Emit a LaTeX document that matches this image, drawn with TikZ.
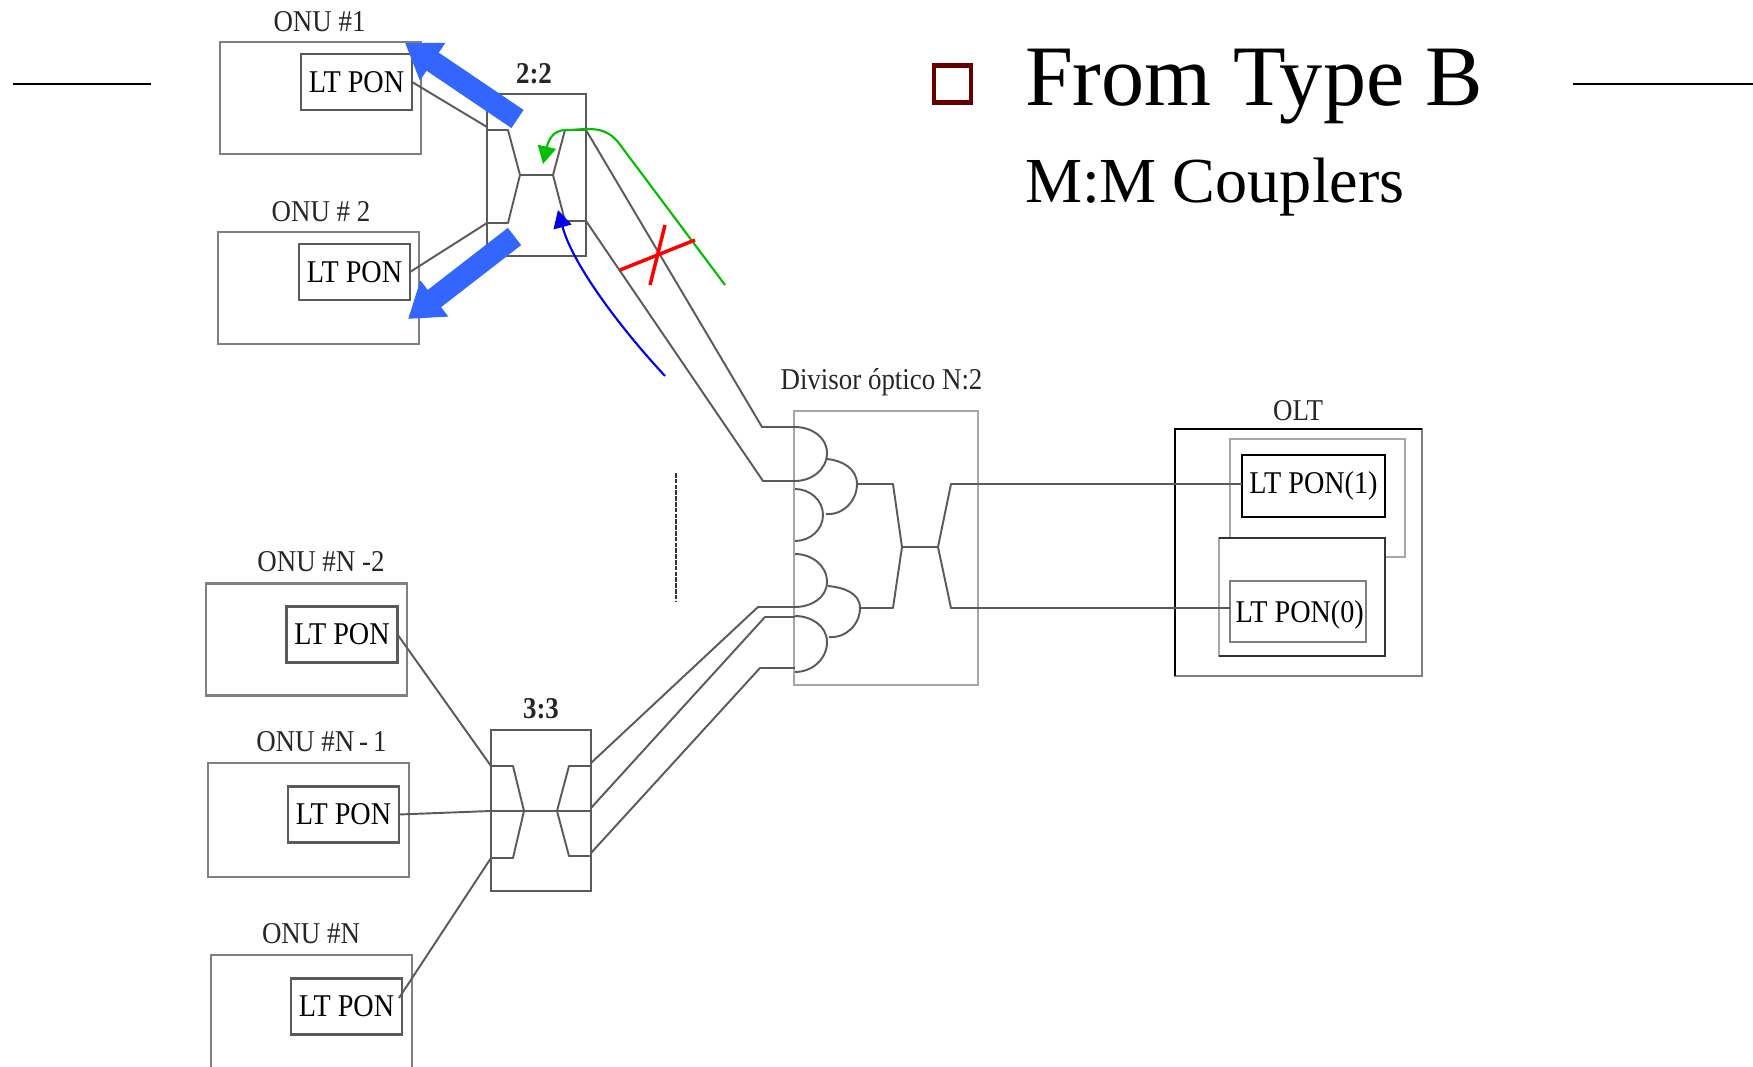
\documentclass[tikz,border=0pt]{standalone}
\usepackage{fontspec}
\usetikzlibrary{arrows.meta}
\setmainfont{Liberation Serif}
\newfontfamily\diagramfont[FakeStretch=0.89]{Liberation Serif}
\definecolor{wirecol}{HTML}{5A5A5A}
\definecolor{boxcol}{HTML}{808080}
\definecolor{palecol}{HTML}{A6A6A6}
\definecolor{bigblue}{HTML}{3366FF}
\definecolor{bulletcol}{HTML}{660000}
\begin{document}
\begin{tikzpicture}[x=0.01cm, y=-0.01cm, inner sep=0, outer sep=0,
	main/.style = {draw=boxcol, line width=0.6pt, font=\diagramfont\fontsize{9}{10}\selectfont},
	onu/.style = {main, minimum width=2.01cm, minimum height=1.12cm},
	pon/.style = {main, draw=wirecol, minimum width=1.11cm, minimum height=0.56cm},
	coupler/.style = {main, draw=wirecol, minimum width=1cm, minimum height=1.61cm},
	caption/.style = {anchor=base, text=black!85, font=\diagramfont\fontsize{8.6}{10}\selectfont},
	ratio/.style = {caption, font=\diagramfont\bfseries\fontsize{8.6}{10}\selectfont},
	wire/.style = {draw=wirecol, line width=0.55pt, line join=round},
	pale/.style = {draw=palecol, line width=0.8pt, line join=miter},
	bigarrow/.style = {draw=bigblue, line width=6.2pt, -{Triangle[length=9.5pt, width=12.3pt]}},
	thinarrow/.style = {line width=0.6pt, -{Triangle[length=5pt, width=5.2pt]}}]
	\useasboundingbox (0,0) rectangle (1753,1067);
	\node[onu] (onu1) at (320.5,98) {};
	\node[onu] (onu2) at (318.5,288) {};
	\node[onu] (onu3) at (306.5,639.5) {};
	\node[onu, minimum height=1.14cm] (onu4) at (308.5,820) {};
	\node[onu, minimum height=1.2cm] (onu5) at (311.5,1015) {};
	\node[pon] (pon1) at (356.5,82) {LT PON};
	\node[pon] (pon2) at (354.5,272) {LT PON};
	\node[pon] (pon3) at (342,634.5) {LT PON};
	\node[pon] (pon4) at (343.5,814.5) {LT PON};
	\node[pon] (pon5) at (346.5,1006.5) {LT PON};
	\node[caption] (cap1) at (319.5,32) {ONU \#1};
	\node[caption] (cap2) at (321,222) {ONU \# 2};
	\node[caption] (cap3) at (321,572) {ONU \#N -2};
	\node[caption] (cap4) at (321.5,752) {ONU \#N\,-\,1};
	\node[caption] (cap5) at (311,944) {ONU \#N};
	\node[ratio] (cap22) at (534,84) {2:2};
	\node[ratio] (cap33) at (541,719) {3:3};
	\node[caption] (capdiv) at (881.5,390) {Divisor óptico N:2};
	\node[caption] (capolt) at (1298,421) {OLT};
	\node[coupler, minimum width=0.99cm, minimum height=1.62cm] (c22) at (536.5,175) {};
	\node[coupler] (c33) at (541,810.5) {};
	\node[main, draw=palecol, line width=0.8pt, minimum width=1.84cm, minimum height=2.74cm] (div) at (886,548) {};
	\node[main, minimum width=2.47cm, minimum height=2.47cm] (olt) at (1298.5,552.5) {};
	\draw[black, line width=0.6pt] (olt.south west) -- (olt.north west) -- (olt.north east);
	\coordinate (rack1) at (1230,537);
	\coordinate (rack2) at (1230,439);
	\coordinate (rack3) at (1405,439);
	\coordinate (rack4) at (1405,557);
	\coordinate (rack5) at (1385,557);
	\draw[pale] (rack1) -- (rack2) -- (rack3) -- (rack4) -- (rack5);
	\node[main, draw=palecol, line width=0.8pt, minimum width=1.66cm, minimum height=1.18cm] (card0) at (1302,597) {};
	\draw[black!80, line width=0.6pt] (card0.north west) -- (card0.north east) -- (card0.south east) -- (card0.south west);
	\node[main, draw=black, minimum width=1.43cm, minimum height=0.62cm] (lt1) at (1313.5,486) {LT PON(1)};
	\node[main, text depth=0pt, minimum width=1.36cm, minimum height=0.61cm] (lt0) at (1298,611.5) {\hspace{1pt}LT PON(0)};
	\coordinate (a1) at (487,127);
	\coordinate (a2) at (487,130);
	\coordinate (a3) at (508,130);
	\coordinate (a4) at (520,175);
	\coordinate (a5) at (508,223);
	\coordinate (a6) at (487,223);
	\coordinate (a7) at (553,175);
	\coordinate (a8) at (565,130);
	\coordinate (a9) at (586,130);
	\coordinate (a10) at (565,221);
	\coordinate (a11) at (586,221);
	\draw[wire] (a2) -- (a3) -- (a4) -- (a5) -- (a6);
	\draw[wire] (a9) -- (a8) -- (a7) -- (a10) -- (a11);
	\draw[wire] (a4) -- (a7);
	\draw[wire] (pon1.east) -- (a1);
	\draw[wire] (pon2.east) -- (a6);
	\coordinate (b1) at (491,766);
	\coordinate (b2) at (513,766);
	\coordinate (b3) at (524,811);
	\coordinate (b4) at (513,858);
	\coordinate (b5) at (491,858);
	\coordinate (b6) at (491,811);
	\coordinate (b7) at (591,811);
	\coordinate (b8) at (591,766);
	\coordinate (b9) at (569,766);
	\coordinate (b10) at (557,811);
	\coordinate (b11) at (569,856);
	\coordinate (b12) at (591,856);
	\draw[wire] (b1) -- (b2) -- (b3) -- (b4) -- (b5);
	\draw[wire] (b8) -- (b9) -- (b10) -- (b11) -- (b12);
	\draw[wire] (b6) -- (b7);
	\coordinate (p5) at (399,998);
	\draw[wire] (pon3.east) -- (b1);
	\draw[wire] (pon4.east) -- (b6);
	\draw[wire] (p5) -- (b5);
	\coordinate (d1) at (795,427);
	\coordinate (d2) at (827,453);
	\coordinate (d3) at (795,481);
	\coordinate (d4) at (795,489);
	\coordinate (d5) at (823,515);
	\coordinate (d6) at (795,541);
	\coordinate (d7) at (795,554);
	\coordinate (d8) at (827,582);
	\coordinate (d9) at (795,607);
	\coordinate (d10) at (795,616);
	\coordinate (d11) at (827,642);
	\coordinate (d12) at (795,672);
	\draw[wire] (d1) to[out=0, in=90] (d2) to[out=-90, in=0] (d3);
	\draw[wire] (d4) to[out=0, in=90] (d5) to[out=-90, in=0] (d6);
	\draw[wire] (d7) to[out=0, in=90] (d8) to[out=-90, in=0] (d9);
	\draw[wire] (d10) to[out=0, in=90] (d11) to[out=-90, in=0] (d12);
	\coordinate (e1) at (827,459);
	\coordinate (e2) at (857,484);
	\coordinate (e3) at (826,514);
	\coordinate (e4) at (828,586);
	\coordinate (e5) at (860,608);
	\coordinate (e6) at (829,637);
	\draw[wire] (e1) to[out=-5, in=90] (e2) to[out=-90, in=-5] (e3);
	\draw[wire] (e4) to[out=-5, in=90] (e5) to[out=-90, in=-5] (e6);
	\coordinate (f1) at (893,484);
	\coordinate (f2) at (902,547);
	\coordinate (f3) at (893,608);
	\coordinate (f4) at (938,547);
	\coordinate (f5) at (951,484);
	\coordinate (f6) at (951,608);
	\draw[wire] (e2) -- (f1) -- (f2) -- (f3) -- (e5);
	\draw[wire] (f2) -- (f4);
	\draw[wire] (lt1.west |- f5) -- (f5) -- (f4) -- (f6) -- (lt0.west |- f6);
	\coordinate (t1) at (762,427);
	\coordinate (t2) at (763,481);
	\coordinate (u1) at (758,607);
	\coordinate (u2) at (765,617);
	\coordinate (u3) at (760,668);
	\coordinate (v1) at (591,763);
	\coordinate (v2) at (591,808);
	\coordinate (v3) at (591,853);
	\draw[wire] (a9) -- (t1) -- (d1);
	\draw[wire] (a11) -- (t2) -- (d3);
	\draw[wire] (v1) -- (u1) -- (d9);
	\draw[wire] (v2) -- (u2) -- (d10 |- u2);
	\draw[wire] (v3) -- (u3) -- (d12 |- u3);
	\coordinate (dot1) at (676,473);
	\coordinate (dot2) at (676,601);
	\draw[black!80, line width=0.7pt, dash pattern=on 1.3pt off 0.35pt] (dot1) -- (dot2);
	\coordinate (tail1) at (517.5,119);
	\coordinate (tip1) at (405,43);
	\coordinate (tail2) at (514.5,236.5);
	\coordinate (tip2) at (408,319);
	\draw[bigarrow] (tail1) -- (tip1);
	\draw[bigarrow] (tail2) -- (tip2);
	\coordinate (g1) at (725,285);
	\coordinate (g2) at (618,142);
	\coordinate (g3) at (566,130);
	\coordinate (g4) at (543,164);
	\draw[thinarrow, draw=green!75!black] (g1) -- (g2) .. controls (603,124) and (585,130) .. (g3) .. controls (552,130) and (548,142) .. (g4);
	\coordinate (h1) at (665,376);
	\coordinate (h2) at (558,210);
	\draw[thinarrow, draw=blue!90!black] (h1) .. controls (615,322) and (572,262) .. (h2);
	\coordinate (x1) at (620,270);
	\coordinate (x2) at (695,240);
	\coordinate (x3) at (665,225);
	\coordinate (x4) at (650,285);
	\draw[red, line width=1pt] (x1) -- (x2);
	\draw[red, line width=1pt] (x3) -- (x4);
	\coordinate (rule1) at (13,84);
	\coordinate (rule2) at (151,84);
	\coordinate (rule3) at (1573,84);
	\coordinate (rule4) at (1753,84);
	\draw[black, line width=0.6pt] (rule1) -- (rule2);
	\draw[black, line width=0.6pt] (rule3) -- (rule4);
	\node[draw=bulletcol, line width=1.4pt, minimum size=0.37cm] (bullet) at (952.5,84) {};
	\node[anchor=base west, font=\fontsize{24.5}{28}\selectfont] (title) at (1025,106) {From Type B};
	\node[anchor=base west, font=\fontsize{18.25}{22}\selectfont] (subtitle) at (1025,203) {M:M Couplers};
\end{tikzpicture}
\end{document}
